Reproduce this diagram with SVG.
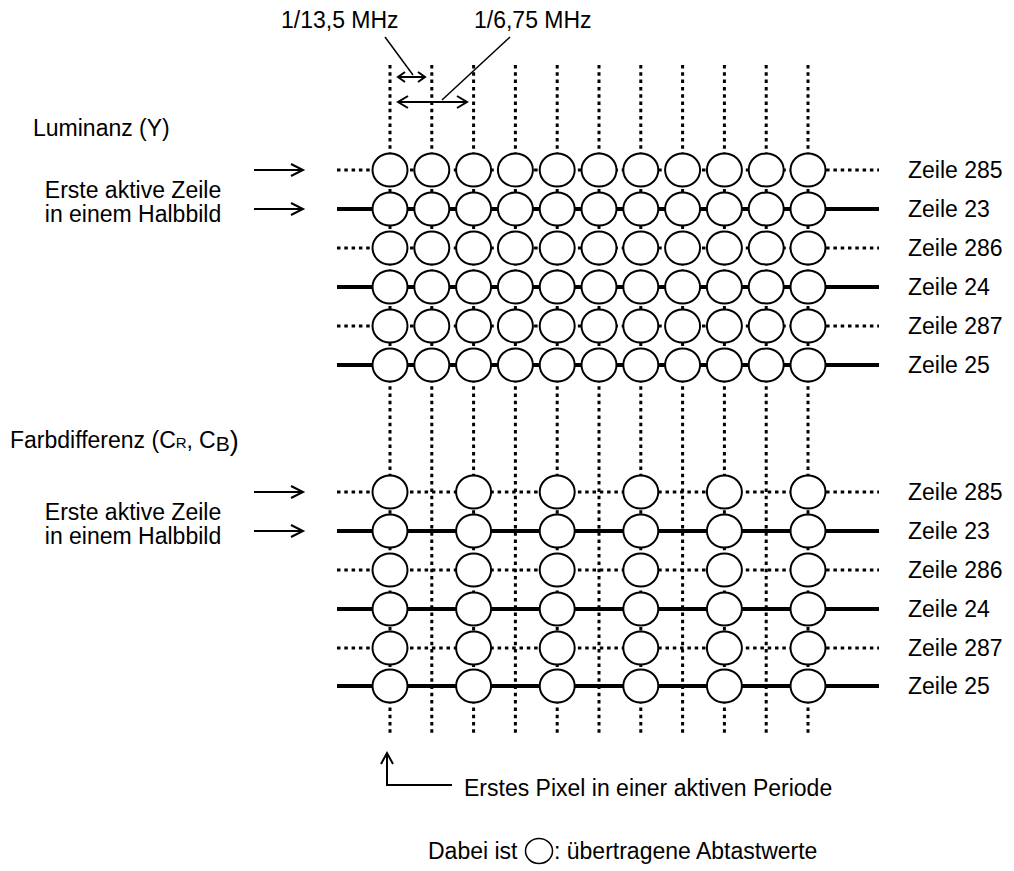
<svg xmlns="http://www.w3.org/2000/svg" width="1014" height="871" viewBox="0 0 1014 871">
<style>
text{font-family:"Liberation Sans",Arial,sans-serif;font-size:23px;fill:#000}
.dv{stroke:#000;stroke-width:3;stroke-dasharray:3.5 3.8;fill:none}
.dh{stroke:#000;stroke-width:3;stroke-dasharray:3.5 3.8;fill:none}
.sh{stroke:#000;stroke-width:4;fill:none}
.c{fill:#fff;stroke:#000;stroke-width:2}
.ln{stroke:#000;stroke-width:1.5;fill:none}
.ar{stroke:#000;stroke-width:2;fill:none}
</style>
<rect width="1014" height="871" fill="#fff"/>
<g id="connectors">
<g id="verticals">
<line class="dv" x1="390" y1="65" x2="390" y2="733"/>
<line class="dv" x1="431.8" y1="65" x2="431.8" y2="733"/>
<line class="dv" x1="473.6" y1="65" x2="473.6" y2="733"/>
<line class="dv" x1="515.4" y1="65" x2="515.4" y2="733"/>
<line class="dv" x1="557.2" y1="65" x2="557.2" y2="733"/>
<line class="dv" x1="599" y1="65" x2="599" y2="733"/>
<line class="dv" x1="640.8" y1="65" x2="640.8" y2="733"/>
<line class="dv" x1="682.6" y1="65" x2="682.6" y2="733"/>
<line class="dv" x1="724.4" y1="65" x2="724.4" y2="733"/>
<line class="dv" x1="766.2" y1="65" x2="766.2" y2="733"/>
<line class="dv" x1="808" y1="65" x2="808" y2="733"/>
</g>
<g id="rows">
<line class="dh" x1="337" y1="170" x2="879" y2="170"/>
<line class="sh" x1="337" y1="209" x2="879" y2="209"/>
<line class="dh" x1="337" y1="248" x2="879" y2="248"/>
<line class="sh" x1="337" y1="287" x2="879" y2="287"/>
<line class="dh" x1="337" y1="326" x2="879" y2="326"/>
<line class="sh" x1="337" y1="365" x2="879" y2="365"/>
<line class="dh" x1="337" y1="492" x2="879" y2="492"/>
<line class="sh" x1="337" y1="531" x2="879" y2="531"/>
<line class="dh" x1="337" y1="570" x2="879" y2="570"/>
<line class="sh" x1="337" y1="609" x2="879" y2="609"/>
<line class="dh" x1="337" y1="648" x2="879" y2="648"/>
<line class="sh" x1="337" y1="686" x2="879" y2="686"/>
</g>
<g id="arrows">
<line class="ar" x1="254" y1="170" x2="303" y2="170"/><polyline class="ar" points="291,164 303,170 291,176"/>
<line class="ar" x1="254" y1="209" x2="303" y2="209"/><polyline class="ar" points="291,203 303,209 291,215"/>
<line class="ar" x1="254" y1="492" x2="303" y2="492"/><polyline class="ar" points="291,486 303,492 291,498"/>
<line class="ar" x1="254" y1="531" x2="303" y2="531"/><polyline class="ar" points="291,525 303,531 291,537"/>
<polyline class="ar" points="387,753 387,785 452,785"/><polyline class="ar" points="381,764 387,753 393,764"/>
<line class="ar" x1="398" y1="77" x2="425" y2="77"/><polyline class="ar" points="405,72 398,77 405,82"/><polyline class="ar" points="418,72 425,77 418,82"/>
<line class="ar" x1="398" y1="102" x2="467" y2="102"/><polyline class="ar" points="408,96 398,102 408,108"/><polyline class="ar" points="457,96 467,102 457,108"/>
<line class="ln" x1="385" y1="37" x2="413" y2="75"/>
<line class="ln" x1="510" y1="37" x2="442" y2="100"/>
</g>
</g>
<g id="luma">
<g id="luma-r1"><ellipse class="c" cx="390" cy="170" rx="17.5" ry="16.5"/><ellipse class="c" cx="431.8" cy="170" rx="17.5" ry="16.5"/><ellipse class="c" cx="473.6" cy="170" rx="17.5" ry="16.5"/><ellipse class="c" cx="515.4" cy="170" rx="17.5" ry="16.5"/><ellipse class="c" cx="557.2" cy="170" rx="17.5" ry="16.5"/><ellipse class="c" cx="599" cy="170" rx="17.5" ry="16.5"/><ellipse class="c" cx="640.8" cy="170" rx="17.5" ry="16.5"/><ellipse class="c" cx="682.6" cy="170" rx="17.5" ry="16.5"/><ellipse class="c" cx="724.4" cy="170" rx="17.5" ry="16.5"/><ellipse class="c" cx="766.2" cy="170" rx="17.5" ry="16.5"/><ellipse class="c" cx="808" cy="170" rx="17.5" ry="16.5"/></g>
<g id="luma-r2"><ellipse class="c" cx="390" cy="209" rx="17.5" ry="16.5"/><ellipse class="c" cx="431.8" cy="209" rx="17.5" ry="16.5"/><ellipse class="c" cx="473.6" cy="209" rx="17.5" ry="16.5"/><ellipse class="c" cx="515.4" cy="209" rx="17.5" ry="16.5"/><ellipse class="c" cx="557.2" cy="209" rx="17.5" ry="16.5"/><ellipse class="c" cx="599" cy="209" rx="17.5" ry="16.5"/><ellipse class="c" cx="640.8" cy="209" rx="17.5" ry="16.5"/><ellipse class="c" cx="682.6" cy="209" rx="17.5" ry="16.5"/><ellipse class="c" cx="724.4" cy="209" rx="17.5" ry="16.5"/><ellipse class="c" cx="766.2" cy="209" rx="17.5" ry="16.5"/><ellipse class="c" cx="808" cy="209" rx="17.5" ry="16.5"/></g>
<g id="luma-r3"><ellipse class="c" cx="390" cy="248" rx="17.5" ry="16.5"/><ellipse class="c" cx="431.8" cy="248" rx="17.5" ry="16.5"/><ellipse class="c" cx="473.6" cy="248" rx="17.5" ry="16.5"/><ellipse class="c" cx="515.4" cy="248" rx="17.5" ry="16.5"/><ellipse class="c" cx="557.2" cy="248" rx="17.5" ry="16.5"/><ellipse class="c" cx="599" cy="248" rx="17.5" ry="16.5"/><ellipse class="c" cx="640.8" cy="248" rx="17.5" ry="16.5"/><ellipse class="c" cx="682.6" cy="248" rx="17.5" ry="16.5"/><ellipse class="c" cx="724.4" cy="248" rx="17.5" ry="16.5"/><ellipse class="c" cx="766.2" cy="248" rx="17.5" ry="16.5"/><ellipse class="c" cx="808" cy="248" rx="17.5" ry="16.5"/></g>
<g id="luma-r4"><ellipse class="c" cx="390" cy="287" rx="17.5" ry="16.5"/><ellipse class="c" cx="431.8" cy="287" rx="17.5" ry="16.5"/><ellipse class="c" cx="473.6" cy="287" rx="17.5" ry="16.5"/><ellipse class="c" cx="515.4" cy="287" rx="17.5" ry="16.5"/><ellipse class="c" cx="557.2" cy="287" rx="17.5" ry="16.5"/><ellipse class="c" cx="599" cy="287" rx="17.5" ry="16.5"/><ellipse class="c" cx="640.8" cy="287" rx="17.5" ry="16.5"/><ellipse class="c" cx="682.6" cy="287" rx="17.5" ry="16.5"/><ellipse class="c" cx="724.4" cy="287" rx="17.5" ry="16.5"/><ellipse class="c" cx="766.2" cy="287" rx="17.5" ry="16.5"/><ellipse class="c" cx="808" cy="287" rx="17.5" ry="16.5"/></g>
<g id="luma-r5"><ellipse class="c" cx="390" cy="326" rx="17.5" ry="16.5"/><ellipse class="c" cx="431.8" cy="326" rx="17.5" ry="16.5"/><ellipse class="c" cx="473.6" cy="326" rx="17.5" ry="16.5"/><ellipse class="c" cx="515.4" cy="326" rx="17.5" ry="16.5"/><ellipse class="c" cx="557.2" cy="326" rx="17.5" ry="16.5"/><ellipse class="c" cx="599" cy="326" rx="17.5" ry="16.5"/><ellipse class="c" cx="640.8" cy="326" rx="17.5" ry="16.5"/><ellipse class="c" cx="682.6" cy="326" rx="17.5" ry="16.5"/><ellipse class="c" cx="724.4" cy="326" rx="17.5" ry="16.5"/><ellipse class="c" cx="766.2" cy="326" rx="17.5" ry="16.5"/><ellipse class="c" cx="808" cy="326" rx="17.5" ry="16.5"/></g>
<g id="luma-r6"><ellipse class="c" cx="390" cy="365" rx="17.5" ry="16.5"/><ellipse class="c" cx="431.8" cy="365" rx="17.5" ry="16.5"/><ellipse class="c" cx="473.6" cy="365" rx="17.5" ry="16.5"/><ellipse class="c" cx="515.4" cy="365" rx="17.5" ry="16.5"/><ellipse class="c" cx="557.2" cy="365" rx="17.5" ry="16.5"/><ellipse class="c" cx="599" cy="365" rx="17.5" ry="16.5"/><ellipse class="c" cx="640.8" cy="365" rx="17.5" ry="16.5"/><ellipse class="c" cx="682.6" cy="365" rx="17.5" ry="16.5"/><ellipse class="c" cx="724.4" cy="365" rx="17.5" ry="16.5"/><ellipse class="c" cx="766.2" cy="365" rx="17.5" ry="16.5"/><ellipse class="c" cx="808" cy="365" rx="17.5" ry="16.5"/></g>
</g>
<g id="chroma">
<g id="chroma-r1"><ellipse class="c" cx="390" cy="492" rx="17.5" ry="16.5"/><ellipse class="c" cx="473.6" cy="492" rx="17.5" ry="16.5"/><ellipse class="c" cx="557.2" cy="492" rx="17.5" ry="16.5"/><ellipse class="c" cx="640.8" cy="492" rx="17.5" ry="16.5"/><ellipse class="c" cx="724.4" cy="492" rx="17.5" ry="16.5"/><ellipse class="c" cx="808" cy="492" rx="17.5" ry="16.5"/></g>
<g id="chroma-r2"><ellipse class="c" cx="390" cy="531" rx="17.5" ry="16.5"/><ellipse class="c" cx="473.6" cy="531" rx="17.5" ry="16.5"/><ellipse class="c" cx="557.2" cy="531" rx="17.5" ry="16.5"/><ellipse class="c" cx="640.8" cy="531" rx="17.5" ry="16.5"/><ellipse class="c" cx="724.4" cy="531" rx="17.5" ry="16.5"/><ellipse class="c" cx="808" cy="531" rx="17.5" ry="16.5"/></g>
<g id="chroma-r3"><ellipse class="c" cx="390" cy="570" rx="17.5" ry="16.5"/><ellipse class="c" cx="473.6" cy="570" rx="17.5" ry="16.5"/><ellipse class="c" cx="557.2" cy="570" rx="17.5" ry="16.5"/><ellipse class="c" cx="640.8" cy="570" rx="17.5" ry="16.5"/><ellipse class="c" cx="724.4" cy="570" rx="17.5" ry="16.5"/><ellipse class="c" cx="808" cy="570" rx="17.5" ry="16.5"/></g>
<g id="chroma-r4"><ellipse class="c" cx="390" cy="609" rx="17.5" ry="16.5"/><ellipse class="c" cx="473.6" cy="609" rx="17.5" ry="16.5"/><ellipse class="c" cx="557.2" cy="609" rx="17.5" ry="16.5"/><ellipse class="c" cx="640.8" cy="609" rx="17.5" ry="16.5"/><ellipse class="c" cx="724.4" cy="609" rx="17.5" ry="16.5"/><ellipse class="c" cx="808" cy="609" rx="17.5" ry="16.5"/></g>
<g id="chroma-r5"><ellipse class="c" cx="390" cy="648" rx="17.5" ry="16.5"/><ellipse class="c" cx="473.6" cy="648" rx="17.5" ry="16.5"/><ellipse class="c" cx="557.2" cy="648" rx="17.5" ry="16.5"/><ellipse class="c" cx="640.8" cy="648" rx="17.5" ry="16.5"/><ellipse class="c" cx="724.4" cy="648" rx="17.5" ry="16.5"/><ellipse class="c" cx="808" cy="648" rx="17.5" ry="16.5"/></g>
<g id="chroma-r6"><ellipse class="c" cx="390" cy="686" rx="17.5" ry="16.5"/><ellipse class="c" cx="473.6" cy="686" rx="17.5" ry="16.5"/><ellipse class="c" cx="557.2" cy="686" rx="17.5" ry="16.5"/><ellipse class="c" cx="640.8" cy="686" rx="17.5" ry="16.5"/><ellipse class="c" cx="724.4" cy="686" rx="17.5" ry="16.5"/><ellipse class="c" cx="808" cy="686" rx="17.5" ry="16.5"/></g>
</g>
<g id="labels-top">
<text x="281" y="28">1/13,5 MHz</text>
<text x="474" y="28">1/6,75 MHz</text>
</g>
<g id="labels-left">
<text x="33" y="136">Luminanz (Y)</text>
<text x="133" y="198" text-anchor="middle">Erste aktive Zeile</text>
<text x="133" y="222" text-anchor="middle">in einem Halbbild</text>
<text x="10" y="448">Farbdifferenz (C<tspan font-size="15">R</tspan>,<tspan dx="6">C</tspan><tspan font-size="21" dy="3">B</tspan><tspan font-size="27" dy="-1">)</tspan></text>
<text x="133" y="520" text-anchor="middle">Erste aktive Zeile</text>
<text x="133" y="544" text-anchor="middle">in einem Halbbild</text>
</g>
<g id="labels-right">
<text x="908" y="178">Zeile 285</text>
<text x="908" y="217">Zeile 23</text>
<text x="908" y="256">Zeile 286</text>
<text x="908" y="295">Zeile 24</text>
<text x="908" y="334">Zeile 287</text>
<text x="908" y="373">Zeile 25</text>
<text x="908" y="500">Zeile 285</text>
<text x="908" y="539">Zeile 23</text>
<text x="908" y="578">Zeile 286</text>
<text x="908" y="617">Zeile 24</text>
<text x="908" y="656">Zeile 287</text>
<text x="908" y="694">Zeile 25</text>
</g>
<g id="labels-bottom">
<text x="464" y="796">Erstes Pixel in einer aktiven Periode</text>
<text x="428" y="859">Dabei ist</text>
<ellipse cx="539" cy="851" rx="13.5" ry="12.5" fill="#fff" stroke="#000" stroke-width="1.5"/>
<text x="554" y="859">: übertragene Abtastwerte</text>
</g>
</svg>
